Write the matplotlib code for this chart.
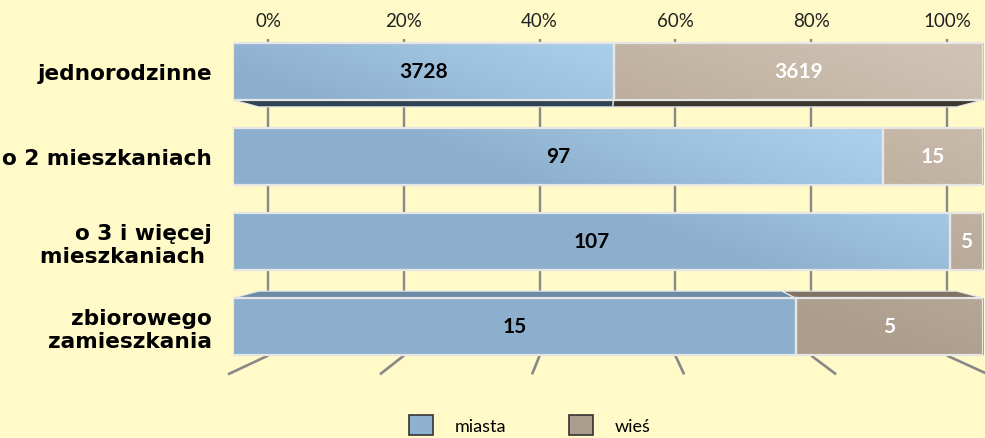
import matplotlib.pyplot as plt
from matplotlib.patches import Patch, Polygon
import matplotlib.colors as mcolors
import numpy as np

categories = ['jednorodzinne', 'o 2 mieszkaniach', 'o 3 i więcej\nmieszkaniach ', 'zbiorowego\nzamieszkania']
miasta = [3728, 97, 107, 15]
wies = [3619, 15, 5, 5]
series_names = ['miasta', 'wieś']
tick_pcts = [0, 20, 40, 60, 80, 100]

# colours
bg = '#FFFAC7'
blue_dark, blue_light = '#8DAFCD', '#ABCFEB'
brown_dark, brown_light = '#AC9D8C', '#D0C2B2'
bottom_face = ['#2F4452', '#3E3630']
top_face = ['#6B8BA7', '#807363']
grid_col = '#888888'
edge_col = '#E6E6E6'

# fake 3d perspective (vanishing point in data coords, depth scales)
vx, vy = 0.4933, 1.5
s_wall, s_bar = 0.905, 0.93
wall_top = -0.382
bar_h = 0.67


def proj(x, y, s):
    return vx + s * (x - vx), vy + s * (y - vy)


fig = plt.figure(figsize=(9.85, 4.39), dpi=100, facecolor=bg)
ax = fig.add_axes([233 / 985, 1 - 370 / 439, 750 / 985, 340 / 439])
ax.set_facecolor('none')
for sp in ax.spines.values():
    sp.set_visible(False)

mi = np.array(miasta, dtype=float)
wi = np.array(wies, dtype=float)
tot = mi + wi
frac_m = mi / tot
frac_w = wi / tot
y = np.arange(len(categories))

# back wall gridlines + floor lines
_, floor_back = proj(0, 3.535, s_wall)
ext = 1.12
for p in tick_pcts:
    bx, _ = proj(p / 100, 0, s_wall)
    fx = vx + (bx - vx) * ext
    fy = vy + (floor_back - vy) * ext
    ax.plot([bx, bx], [wall_top, floor_back], color=grid_col, lw=1.7, zorder=1,
            clip_on=False, solid_capstyle='butt')
    ax.plot([bx, fx], [floor_back, fy], color=grid_col, lw=1.9,
            zorder=1, clip_on=False, solid_capstyle='butt')

# gradient images
xs = np.linspace(0, 1, 300)
ys = np.linspace(-0.5, 3.5, 200)
X, Y = np.meshgrid(xs, ys)
T = X - 0.3 * Y


def grad(c0, c1, t):
    a = np.array(mcolors.to_rgb(c0))
    b = np.array(mcolors.to_rgb(c1))
    return a + (b - a) * t[..., None]


img_blue = grad(blue_dark, blue_light, np.clip(T / 0.6, 0, 1))
img_brown = grad(brown_dark, brown_light, np.clip((T + 0.1) / 1.1, 0, 1))

lefts = [np.zeros(len(y)), frac_m]
widths = [frac_m, frac_w]
imgs = [img_blue, img_brown]

for k in range(2):
    bars = ax.barh(y, widths[k], left=lefts[k], height=bar_h, facecolor='none',
                   edgecolor=edge_col, lw=1.6, zorder=4)
    for b in bars:
        im = ax.imshow(imgs[k], extent=(0, 1, 3.5, -0.5), aspect='auto',
                       interpolation='bilinear', zorder=3)
        im.set_clip_path(b)
    # visible top / bottom faces
    for i in range(len(y)):
        l, w = lefts[k][i], widths[k][i]
        for yf, cols in ((y[i] + bar_h / 2, bottom_face), (y[i] - bar_h / 2, top_face)):
            x0b, yb = proj(l, yf, s_bar)
            x1b, _ = proj(l + w, yf, s_bar)
            vis = (yf > y[i] and yf < vy) or (yf < y[i] and yf > vy)
            if not vis or abs(yb - yf) < 0.05:
                continue
            poly = Polygon([(l, yf), (l + w, yf), (x1b, yb), (x0b, yb)], closed=True,
                           facecolor=cols[k], edgecolor=edge_col, lw=0.9, zorder=2.5)
            ax.add_patch(poly)

# data labels
for i in range(len(y)):
    ax.text(frac_m[i] / 2, y[i], str(miasta[i]), ha='center', va='center',
            fontsize=15, fontweight='bold', family='Lato', color='black', zorder=6)
    ax.text(frac_m[i] + frac_w[i] / 2, y[i], str(wies[i]), ha='center', va='center',
            fontsize=15, fontweight='bold', family='Lato', color='white', zorder=6)

ax.set_xlim(0, 1)
ax.set_ylim(3.5, -0.5)

ax.xaxis.tick_top()
ax.set_xticks([proj(p / 100, 0, s_wall)[0] for p in tick_pcts])
ax.set_xticklabels([f'{p}%' for p in tick_pcts], family='Lato', fontsize=13.5, color='#222222')
ax.tick_params(axis='x', length=0, pad=0)

ax.set_yticks(y)
ax.set_yticklabels(categories, family='DejaVu Sans', fontweight='bold', fontsize=15.6,
                   linespacing=1.15)
ax.tick_params(axis='y', length=0, pad=15)

handles = [Patch(facecolor='#8FB1CF', edgecolor='#333333', lw=1.2),
           Patch(facecolor='#AC9E8D', edgecolor='#333333', lw=1.2)]
fig.legend(handles, series_names, loc='center', bbox_to_anchor=(0.538, 0.03), ncol=2,
           frameon=False, prop={'family': 'Lato', 'size': 13}, handlelength=1.33,
           handleheight=1.33, handletextpad=1.2, columnspacing=3.5)

fig.savefig('out.png', dpi=100, facecolor=bg)
